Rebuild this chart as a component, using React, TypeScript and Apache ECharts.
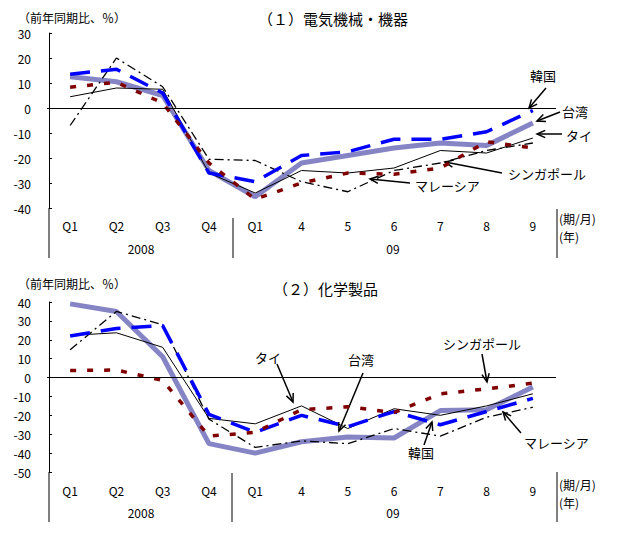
import React, { useEffect, useRef } from "react";
import * as echarts from "echarts";

const categories = ["Q1", "Q2", "Q3", "Q4", "Q1", "4", "5", "6", "7", "8", "9"];
const yearLabels = ["2008", "09"];

// (1) 電気機械・機器
const korea1 = [13.5, 15.5, 6, -26, -29.5, -19, -17.5, -12.5, -12.5, -9.5, -1];
const taiwan1 = [12.5, 10.5, 5, -25, -35.5, -22, -19, -16, -14, -15, -6];
const thai1 = [4.5, 8, 7.5, -26, -34, -25, -26, -24, -17, -18, -12];
const singapore1 = [8.3, 10.3, 2, -22, -36.5, -30, -26, -26.5, -24, -13.5, -16];
const malaysia1 = [-7, 20, 8.5, -20.5, -21, -29.5, -33.5, -25, -22, -17, -14];

// (2) 化学製品
const korea2 = [22, 26, 27.5, -19.5, -29, -20, -26, -18, -25, -18, -11];
const taiwan2 = [39, 35, 11, -35, -40, -34, -31.5, -32, -17.5, -17, -5];
const thai2 = [22.3, 23.7, 16, -21.6, -24.5, -15, -27, -16.5, -20, -15, -8.6];
const singapore2 = [3.7, 4, -1.5, -31, -29, -17, -15.5, -18.5, -8.6, -6, -3];
const malaysia2 = [14.7, 35, 28, -22, -37, -33.5, -35, -27, -31, -21, -15.7];

const FONT = "'Noto Sans CJK JP', sans-serif";

function arrow(x1: number, y1: number, x2: number, y2: number) {
  const a = Math.atan2(y2 - y1, x2 - x1);
  const L = 9;
  const s = 0.42;
  return [
    { type: "line", shape: { x1, y1, x2, y2 }, style: { stroke: "#000", lineWidth: 1.5 } },
    {
      type: "polyline",
      shape: {
        points: [
          [x2 - L * Math.cos(a - s), y2 - L * Math.sin(a - s)],
          [x2, y2],
          [x2 - L * Math.cos(a + s), y2 - L * Math.sin(a + s)],
        ],
      },
      style: { stroke: "#000", lineWidth: 1.5, fill: null },
    },
  ];
}

function txt(text: string, x: number, y: number, size = 13, align = "left") {
  return {
    type: "text",
    x,
    y,
    style: { text, fill: "#000", font: `${size}px ${FONT}`, textAlign: align, textVerticalAlign: "middle" },
  };
}

function vline(x: number, y1: number, y2: number) {
  return { type: "line", shape: { x1: x, y1, x2: x, y2 }, style: { stroke: "#000", lineWidth: 1 } };
}

export default function App() {
  const ref = useRef<HTMLDivElement>(null);
  useEffect(() => {
    document.body.style.margin = "0";
    const chart = echarts.init(ref.current!, null, { renderer: "svg" });

    const styles: Record<string, any> = {
      taiwan: { color: "#8585C6", width: 5, type: "solid" },
      thai: { color: "#000000", width: 1, type: "solid" },
      malaysia: { color: "#000000", width: 1.3, type: [9, 4, 2, 4] },
      korea: { color: "#0000FF", width: 3.5, type: [20, 11] },
      singapore: { color: "#800000", width: 3.5, type: [6, 11] },
    };

    const mk = (name: string, data: number[], idx: number, key: string, zero = false) => ({
      name,
      type: "line",
      xAxisIndex: idx,
      yAxisIndex: idx,
      data,
      symbol: "none",
      lineStyle: styles[key],
      z: key === "taiwan" ? 2 : 3,
      markLine: zero
        ? {
            silent: true,
            symbol: "none",
            label: { show: false },
            lineStyle: { color: "#000", width: 1, type: "solid" },
            data: [{ yAxis: 0 }],
          }
        : undefined,
    });

    const xAxisBase = (gridIndex: number, margin: number) => ({
      type: "category",
      gridIndex,
      data: categories,
      boundaryGap: true,
      axisLine: { show: false },
      axisTick: { show: false },
      axisLabel: { color: "#000", fontSize: 12, fontFamily: FONT, margin, interval: 0 },
    });

    const yAxisBase = (gridIndex: number, min: number, max: number) => ({
      type: "value",
      gridIndex,
      min,
      max,
      interval: 10,
      offset: -2,
      axisLine: { show: true, lineStyle: { color: "#000", width: 1 } },
      axisTick: { show: true, inside: true, length: 3, lineStyle: { color: "#000" } },
      splitLine: { show: false },
      axisLabel: { color: "#000", fontSize: 12, fontFamily: FONT, margin: 18 },
    });

    const graphic: any[] = [
      txt("（前年同期比、％）", 18, 17, 12),
      txt("（１）電気機械・機器", 258, 18, 15),
      txt("（前年同期比、％）", 18, 283, 12),
      txt("（２）化学製品", 273, 288, 15),
      // panel 1 x-axis decorations
      vline(49, 208, 258),
      vline(233, 218, 258),
      vline(557, 209, 258),
      txt(yearLabels[0], 141, 248, 12, "center"),
      txt(yearLabels[1], 393, 248, 12, "center"),
      txt("(期/月)", 559, 218, 12),
      txt("(年)", 559, 236, 12),
      // panel 2 x-axis decorations
      vline(49, 472, 522),
      vline(232, 473, 522),
      vline(557, 472, 522),
      txt(yearLabels[0], 141, 512, 12, "center"),
      txt(yearLabels[1], 393, 512, 12, "center"),
      txt("(期/月)", 559, 484, 12),
      txt("(年)", 559, 502, 12),
      // panel 1 annotations
      txt("韓国", 530, 75),
      ...arrow(546, 88, 529, 108),
      txt("台湾", 562, 111),
      ...arrow(560, 112, 537, 121),
      txt("タイ", 566, 135),
      ...arrow(562, 134, 537, 134),
      txt("シンガポール", 508, 173),
      ...arrow(502, 173, 445, 162),
      txt("マレーシア", 415, 185),
      ...arrow(410, 183, 370, 179),
      // panel 2 annotations
      txt("タイ", 255, 357),
      ...arrow(277, 364, 293, 402),
      txt("台湾", 348, 359),
      ...arrow(363, 373, 339, 431),
      txt("シンガポール", 443, 343),
      ...arrow(482, 354, 487, 382),
      txt("韓国", 408, 452),
      ...arrow(424, 445, 432, 422),
      txt("マレーシア", 524, 442),
      ...arrow(521, 433, 503, 412),
    ];

    chart.setOption({
      animation: false,
      backgroundColor: "#fff",
      textStyle: { fontFamily: FONT },
      grid: [
        { left: 47, top: 33, width: 509, height: 175 },
        { left: 47, top: 302, width: 509, height: 170 },
      ],
      xAxis: [xAxisBase(0, 11), xAxisBase(1, 12)],
      yAxis: [yAxisBase(0, -40, 30), yAxisBase(1, -50, 40)],
      series: [
        mk("台湾", taiwan1, 0, "taiwan", true),
        mk("タイ", thai1, 0, "thai"),
        mk("マレーシア", malaysia1, 0, "malaysia"),
        mk("韓国", korea1, 0, "korea"),
        mk("シンガポール", singapore1, 0, "singapore"),
        mk("台湾", taiwan2, 1, "taiwan", true),
        mk("タイ", thai2, 1, "thai"),
        mk("マレーシア", malaysia2, 1, "malaysia"),
        mk("韓国", korea2, 1, "korea"),
        mk("シンガポール", singapore2, 1, "singapore"),
      ],
      graphic,
    });
    return () => chart.dispose();
  }, []);
  return <div ref={ref} style={{ width: 633, height: 547 }} />;
}
